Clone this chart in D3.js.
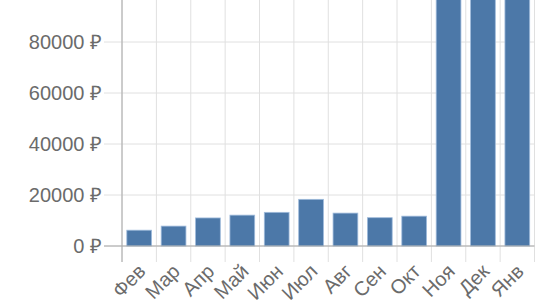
<!DOCTYPE html>
<html><head><meta charset="utf-8">
<script src="https://cdn.jsdelivr.net/npm/d3@7"></script>
<style>body{margin:0;background:#fff}svg{display:block}</style>
</head><body>
<svg id="c" width="540" height="304"></svg>
<script>
const months = ["Фев","Мар","Апр","Май","Июн","Июл","Авг","Сен","Окт","Ноя","Дек","Янв"];
const prices = [6200, 7800, 11000, 12100, 13200, 18300, 12900, 11100, 11700, 130000, 130000, 130000];
const yTicks = [0, 20000, 40000, 60000, 80000];

const svg = d3.select("#c");
const x = d3.scaleBand().domain(months).range([122, 534.5]).paddingInner(0.28).paddingOuter(0.14);
const xb = d3.scaleBand().domain(months).range([122, 534.5]);
const y = d3.scaleLinear().domain([0, 80000]).range([246, 42]);
const font = "Liberation Sans, Arial, sans-serif";

// vertical gridlines + ticks at band boundaries
const bounds = months.map(m => xb(m)).concat([xb.range()[1]]);
svg.append("g").selectAll("line").data(bounds).join("line")
  .attr("x1", d => d).attr("x2", d => d).attr("y1", 0).attr("y2", 262)
  .attr("stroke", "#e0e0e0").attr("stroke-width", 1);

// horizontal gridlines + ticks
svg.append("g").selectAll("line").data(yTicks).join("line")
  .attr("x1", 104).attr("x2", 534.5).attr("y1", d => y(d)).attr("y2", d => y(d))
  .attr("stroke", "#e0e0e0").attr("stroke-width", 1);

// bars
svg.append("g").selectAll("rect").data(months).join("rect")
  .attr("x", d => x(d)).attr("width", x.bandwidth())
  .attr("y", (d, i) => y(prices[i])).attr("height", (d, i) => y(0) - y(prices[i]))
  .attr("fill", "#4c78a8").attr("stroke", "#9fbbdb").attr("stroke-width", 0.8);

// axes domains
svg.append("line").attr("x1", 122).attr("x2", 122).attr("y1", 0).attr("y2", 262)
  .attr("stroke", "#a8a8a8").attr("stroke-width", 1);
svg.append("line").attr("x1", 104).attr("x2", 534.5).attr("y1", y(0)).attr("y2", y(0))
  .attr("stroke", "#a8a8a8").attr("stroke-width", 1);

// y labels
svg.append("g").selectAll("text").data(yTicks).join("text")
  .attr("x", 102).attr("y", d => y(d)).attr("dy", "0.36em")
  .attr("text-anchor", "end").attr("font-family", font).attr("font-size", 20)
  .attr("fill", "#6b6b6b").text(d => d + " ₽");

// x labels
svg.append("g").selectAll("text").data(months).join("text")
  .attr("transform", d => `translate(${xb(d) + xb.bandwidth()/2 - 3},${262}) rotate(-45)`)
  .attr("text-anchor", "end").attr("dy", "0.75em")
  .attr("font-family", font).attr("font-size", 20)
  .attr("fill", "#6b6b6b").text(d => d);
</script>
</body></html>
